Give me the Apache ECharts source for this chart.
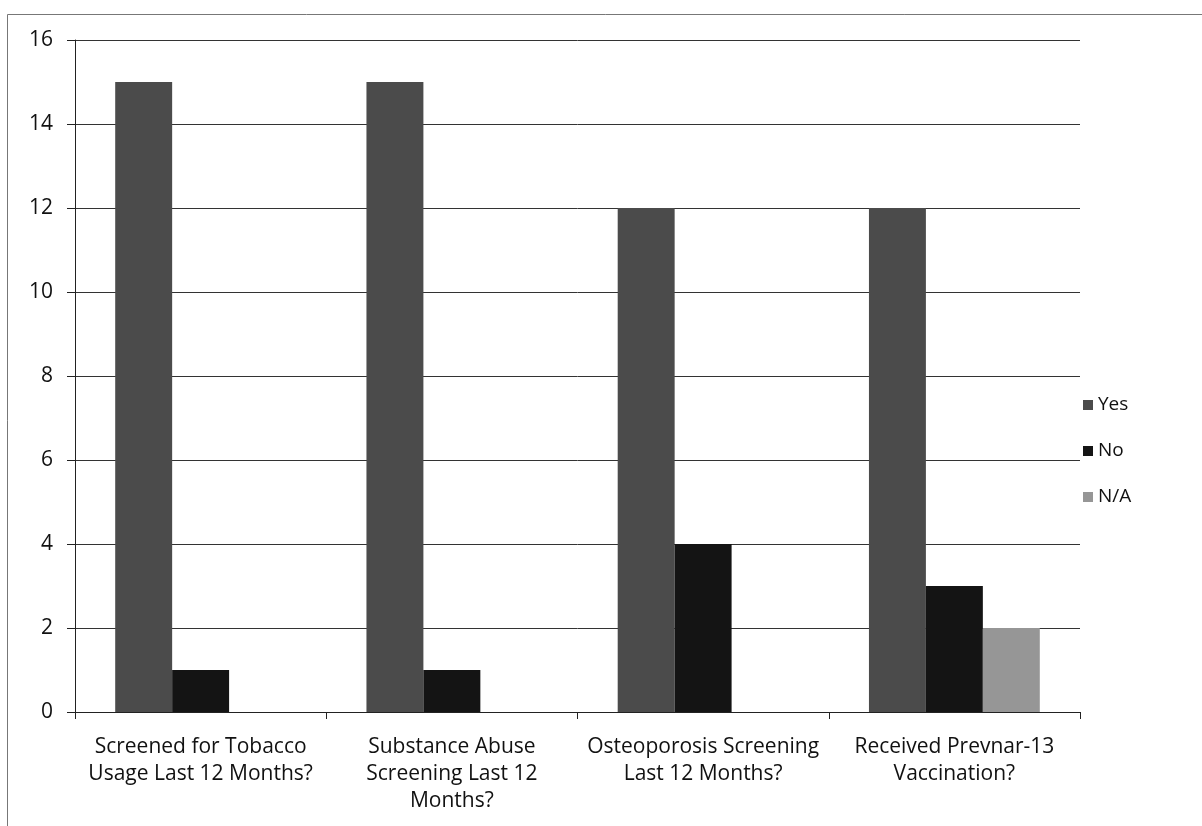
<!DOCTYPE html>
<html>
<head>
<meta charset="utf-8">
<script src="https://cdn.jsdelivr.net/npm/echarts@6/dist/echarts.min.js"></script>
<style>
  html, body { margin: 0; padding: 0; background: #fff; }
  #chart { width: 1202px; height: 826px; }
</style>
</head>
<body>
<div id="chart"></div>
<script>
// Survey questions along the x axis
const categories = [
  'Screened for Tobacco\nUsage Last 12 Months?',
  'Substance Abuse\nScreening Last 12\nMonths?',
  'Osteoporosis Screening\nLast 12 Months?',
  'Received Prevnar-13\nVaccination?'
];
// Response counts per question
const yesValues = [15, 15, 12, 12];
const noValues = [1, 1, 4, 3];
const naValues = [0, 0, 0, 2];
const seriesNames = ['Yes', 'No', 'N/A'];
const yTicks = { min: 0, max: 16, interval: 2 };

const font = '"Open Sans", Lato, sans-serif';
const colors = ['#4b4b4b', '#141414', '#969696'];

const chart = echarts.init(document.getElementById('chart'), null, { renderer: 'canvas' });

function barSeries(name, values, color) {
  return {
    name: name,
    type: 'bar',
    data: values,
    barGap: '0%',
    barCategoryGap: '32%',
    itemStyle: { color: color },
    emphasis: { disabled: true }
  };
}

chart.setOption({
  animation: false,
  backgroundColor: '#fff',
  graphic: [{
    type: 'rect',
    shape: { x: 7.5, y: 14.5, width: 1220, height: 840 },
    style: { fill: 'none', stroke: '#777', lineWidth: 1 },
    silent: true
  }],
  grid: { left: 75, right: 122, top: 40, bottom: 114, containLabel: false },
  legend: {
    orient: 'vertical',
    left: 1078,
    top: 390,
    itemWidth: 10,
    itemHeight: 10,
    itemGap: 26,
    itemStyle: { borderWidth: 0 },
    icon: 'rect',
    data: seriesNames,
    textStyle: { fontFamily: font, fontSize: 19, color: '#111', lineHeight: 20 }
  },
  xAxis: {
    type: 'category',
    data: categories,
    axisLine: { lineStyle: { color: '#222', width: 1 } },
    axisTick: { show: true, length: 7, lineStyle: { color: '#222' } },
    axisLabel: {
      fontFamily: font, fontSize: 21, color: '#111',
      lineHeight: 27, margin: 22, align: 'center', interval: 0
    }
  },
  yAxis: {
    type: 'value',
    min: yTicks.min,
    max: yTicks.max,
    interval: yTicks.interval,
    axisLine: { show: true, lineStyle: { color: '#222', width: 1 } },
    axisTick: { show: true, length: 8, lineStyle: { color: '#222' } },
    splitLine: { show: true, lineStyle: { color: '#333', width: 1 } },
    axisLabel: { fontFamily: font, fontSize: 21, color: '#111', margin: 22 }
  },
  series: [
    barSeries(seriesNames[0], yesValues, colors[0]),
    barSeries(seriesNames[1], noValues, colors[1]),
    barSeries(seriesNames[2], naValues, colors[2])
  ]
});
</script>
</body>
</html>
